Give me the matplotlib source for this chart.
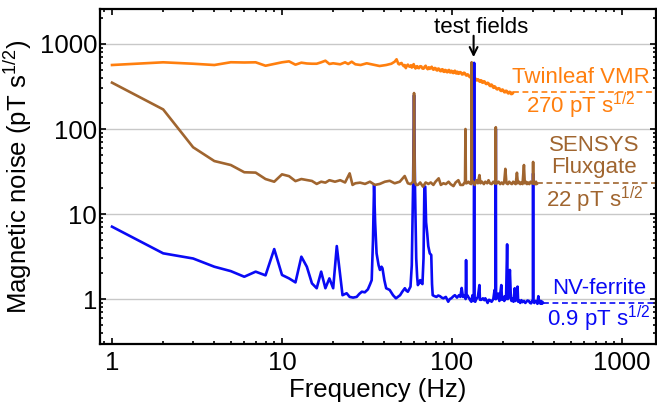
import matplotlib
matplotlib.use("Agg")
import matplotlib.pyplot as plt
from matplotlib.ticker import FixedLocator, FixedFormatter, LogLocator, NullFormatter

plt.rcParams['font.family'] = ['Liberation Sans', 'DejaVu Sans']
plt.rcParams['mathtext.fontset'] = 'custom'
plt.rcParams['mathtext.rm'] = 'Liberation Sans'
plt.rcParams['mathtext.it'] = 'Liberation Sans:italic'

# ---------------- data ----------------
twinleaf_f = [1, 2, 3, 4, 5, 6, 7, 8, 9, 10, 11, 12, 13, 14, 15, 16, 17, 18, 19, 20,
              22, 23.5, 24.5, 25.7, 27, 29, 31.5, 34.5, 37.5, 41, 44, 46, 47.2, 48.3,
              49, 49.8, 50.5, 51.2, 52, 52.7, 53.5, 54.2, 55, 55.7, 56.5, 57.3, 58, 58.8,
              59.5, 60.2, 61, 61.8, 62.5, 63.2, 64, 65, 66, 67, 68, 69, 70, 71, 72, 73, 74,
              75, 76, 77, 78, 79, 80, 81, 82, 83, 84, 85, 86, 87, 88, 89, 90, 91, 92, 93,
              94, 95, 96, 97, 98, 99, 100, 101, 102, 103, 104, 105, 106, 107, 108, 109,
              110, 111.5, 113, 114.5, 116, 117.5, 119, 120.5, 122, 123.5, 125, 126.5, 128,
              129.5, 131, 132.5, 134, 135.5, 137, 138.5, 140, 141.5, 143, 144.5, 146,
              147.5, 149, 150.5, 152, 154, 156, 158, 160, 162, 164, 166, 168, 170, 172,
              174, 176, 178, 180, 182.5, 185, 187.5, 190, 192.5, 195, 197.5, 200, 202.5,
              205, 207.5, 210, 212.5, 215, 217.5, 220, 222.5, 225, 226.5, 228]
twinleaf_v = [566, 609, 586, 566, 610, 606, 609, 555, 582, 609, 625, 571, 603, 590, 586,
              586, 609, 636, 582, 593, 577, 609, 582, 619, 577, 566, 593, 571, 551, 566,
              586, 619, 661, 586,
              575, 592, 598, 570, 548, 566, 520, 555, 572, 548, 540, 562, 528, 556,
              580, 535, 515, 545, 548, 522, 520, 548, 545, 515, 512, 540, 555, 520, 505, 532,
              510, 528, 540, 505, 498, 522, 520, 492, 488, 515, 510, 482, 478, 502, 505, 474,
              470, 495, 492, 468, 465, 490, 495, 465, 462, 485, 480, 458, 455, 478, 485, 456,
              450, 472, 470, 446, 448, 468, 462, 438, 440, 460, 455, 430, 425, 440, 432, 412,
              405, 420, 412, 392, 390, 402, 395, 378, 372, 385, 382, 365, 360, 375, 372, 352,
              350, 365, 360, 340, 338, 350, 345, 326, 320, 334, 330, 310, 305, 318, 312, 296,
              292, 302, 300, 284, 280, 292, 288, 272, 270, 282, 280, 265, 262, 274, 272, 258,
              258, 268, 265]

sensys_f = [1, 2, 3, 4, 5, 6, 7, 8, 9, 10, 11, 12, 13, 14, 15, 16, 17, 18, 19, 20.5, 22,
            23.5, 25, 26, 27, 28.8, 30.8, 32.9, 35.2, 37.6, 40.3, 43, 46, 49.3, 52.7, 55,
            57, 59.2, 59.8, 60.4, 61.5, 63, 65, 67.5, 70, 72.6, 75, 77.7, 80, 83.5, 86, 89,
            92, 95.5, 98, 102, 105, 109, 112, 116, 119.3, 120, 120.7, 122, 125, 127, 129.8,
            130.5, 131.2, 133, 136, 139, 142, 145, 147, 150, 154, 157, 161, 164, 167, 171,
            175, 178, 180.3, 181, 181.7, 184, 188, 192, 196, 200, 203, 206, 209, 213, 217,
            221, 225, 229, 233, 237, 241, 244, 248, 252, 256, 260, 265, 268, 272, 276, 280,
            285, 290, 295, 299.3, 300, 300.7, 304, 308, 312, 315]
sensys_v = [351, 170, 61, 42, 37.7, 31, 30.7, 25.8, 24, 29.3, 27.9, 24.4, 25.8, 25.1, 24.5,
            22.6, 24, 23.4, 25, 24, 25, 23.5, 30.1, 22, 23, 23.4, 22.6, 24, 22, 22.6, 24,
            24.6, 23, 24, 28, 23, 22.5, 24, 265, 24, 22, 22, 23.5, 21, 23.5, 22.6, 23.5, 22,
            24, 26.3, 22, 23, 22.5, 24, 22.5, 21.3, 23.5, 25, 22, 22, 24, 100, 23, 23, 24,
            23, 22.5, 610, 24, 24, 22, 25, 23, 28.7, 23, 24, 22.5, 24, 23, 25, 23, 22.5, 24,
            23, 23, 105, 23, 23, 24, 22.5, 23.5, 22.5, 24, 34, 23, 22.5, 24, 23, 22.5, 24,
            23, 22.5, 30.6, 23, 24, 22.5, 23.5, 22.5, 37.7, 23, 24, 22.5, 23.5, 22.5, 24,
            23, 23, 41, 23, 23, 22.5, 24, 22.6]

nv_f = [1, 2, 3, 4, 5, 6, 7, 8, 9, 10, 11, 12, 13, 14, 15, 16, 17, 18, 19, 20, 21, 22.7,
        24, 25, 26.2, 27.5, 28.5, 29.5, 30.7, 32, 33, 33.7, 34.3, 34.8, 35.3, 36, 37, 37.7,
        38.5, 39, 40, 41, 43, 45, 46.8, 48, 49.5, 51, 52.8, 54, 55, 57, 58, 59.0, 59.8,
        60.6, 61.6, 62.4, 63, 64, 65, 66, 67, 68, 68.8, 69.6, 70.4, 71.5, 72.5, 74,
        75.5, 76.3, 77, 79, 81, 83, 85, 87, 89, 92, 95, 97, 99, 102, 104, 107, 110, 112,
        114, 116, 118, 120.3, 121, 121.8, 123, 126, 128, 130, 132, 134.3, 135, 135.7, 137,
        139, 142, 145, 146, 149, 152, 155, 157, 160, 162, 165, 167, 171, 175, 178, 180.3,
        181, 181.7, 185, 187, 190, 195, 197, 200, 203, 205, 208, 211, 213, 215, 219, 222,
        224, 226, 230, 234, 236, 238, 243, 245, 248, 252, 256, 260, 265, 270, 274, 278,
        283, 288, 292, 296, 299.3, 300, 300.7, 305, 310, 315, 318, 322, 326, 330, 333,
        336, 340, 343]
nv_v = [7.1, 3.45, 3.0, 2.4, 2.13, 1.83, 2.1, 1.9, 3.87, 1.92, 1.75, 1.57, 3.15, 2.4, 1.53,
        1.34, 2.1, 1.34, 1.75, 1.34, 4.2, 1.11, 1.17, 1.06, 1.04, 1.06, 1.15, 1.22, 1.2,
        1.3, 1.5, 1.67, 5, 22, 8, 3.45, 2.5, 2.2, 2.4, 2.3, 1.67, 1.34, 1.28, 1.11, 1.02,
        1.06, 1.11, 1.22, 1.34, 1.25, 1.22, 1.4, 2.5, 20, 250, 20, 3.0, 1.8, 1.46,
        1.55, 1.67, 1.55, 1.5, 3, 21, 21, 8, 5.9, 4.2, 3.45, 3.3, 1.5, 1.11, 1.08, 1.06,
        1.1, 1.08, 1.04, 1.02, 1.06, 0.93, 1.0, 1.02, 1.08, 1.11, 1.04, 1.11, 1.06, 1.35,
        1.06, 1.11, 1.0, 2.87, 1.05, 1.11, 1.02, 0.97, 0.93, 1.11, 0.95, 600, 0.95, 0.93,
        1.0, 1.06, 1.46, 0.98, 0.98, 1.02, 0.97, 1.02, 0.95, 0.9, 0.98, 0.97, 0.93, 1.0,
        1.28, 1.0, 100, 1.0, 1.05, 1.16, 0.95, 1.46, 0.98, 1.06, 0.95, 1.08, 1.0, 4.4, 1.0,
        1.06, 2.2, 1.02, 0.95, 1.02, 0.93, 1.34, 0.95, 0.98, 1.4, 0.93, 0.96, 0.9, 0.97,
        0.92, 0.95, 0.9, 0.93, 0.96, 0.95, 0.9, 0.89, 0.95, 0.93, 30, 0.93, 0.9, 0.95,
        0.93, 0.88, 1.08, 0.9, 0.89, 0.95, 0.88, 0.93, 0.9]

floor_levels = {"twinleaf": 275, "sensys": 23.4, "nv": 0.91}
floor_labels = ["270 pT s$^{\\mathrm{1/2}}$", "22 pT s$^{\\mathrm{1/2}}$", "0.9 pT s$^{\\mathrm{1/2}}$"]
series_names = ["Twinleaf VMR", "SENSYS\nFluxgate", "NV-ferrite"]
test_field_freq = 134
tick_values = [1, 10, 100, 1000]
tick_labels = ["1", "10", "100", "1000"]

# ---------------- style ----------------
c_orange = "#FF7F0E"
c_brown = "#A0652F"
c_blue = "#0A0AF5"

fig = plt.figure(figsize=(6.57, 4.07), dpi=100)
ax = fig.add_axes([100 / 657, 63 / 407, 556 / 657, 335 / 407])
ax.set_xscale('log')
ax.set_yscale('log')
xmin, xmax = 0.85, 1585
ax.set_xlim(xmin, xmax)
ax.set_ylim(0.296, 2580)

for y in tick_values:
    ax.axhline(y, color="#C8C8C8", lw=1.0, zorder=0)

lw = 1.9
ax.plot(twinleaf_f, twinleaf_v, color=c_orange, lw=lw, zorder=2)
ax.plot(nv_f, nv_v, color=c_blue, lw=lw, zorder=3)
ax.plot(sensys_f, sensys_v, color=c_brown, lw=lw, zorder=4)

dash = (0, (3.5, 2.2))
ax.plot([twinleaf_f[-1], xmax], [floor_levels["twinleaf"]] * 2, color=c_orange, lw=1.2, ls=dash, zorder=2)
ax.plot([sensys_f[-1], xmax], [floor_levels["sensys"]] * 2, color=c_brown, lw=1.2, ls=dash, zorder=2)
ax.plot([nv_f[-1], xmax], [floor_levels["nv"]] * 2, color=c_blue, lw=1.2, ls=dash, zorder=2)

fs_ann = 16
tr = ax.transAxes
ax.text(0.865, 0.778, series_names[0], color=c_orange, fontsize=fs_ann, ha='center', va='baseline', transform=tr)
ax.text(0.865, 0.689, floor_labels[0], color=c_orange, fontsize=fs_ann, ha='center', va='baseline', transform=tr)
ax.text(0.889, 0.575, "SENSYS", color=c_brown, fontsize=fs_ann, ha='center', va='baseline', transform=tr)
ax.text(0.889, 0.510, "Fluxgate", color=c_brown, fontsize=fs_ann, ha='center', va='baseline', transform=tr)
ax.text(0.890, 0.408, floor_labels[1], color=c_brown, fontsize=fs_ann, ha='center', va='baseline', transform=tr)
ax.text(0.897, 0.149, series_names[2], color=c_blue, fontsize=fs_ann, ha='center', va='baseline', transform=tr)
ax.text(0.897, 0.052, floor_labels[2], color=c_blue, fontsize=fs_ann, ha='center', va='baseline', transform=tr)

ax.text(0.685, 0.927, "test fields", color='black', fontsize=fs_ann, ha='center', va='baseline', transform=tr)
ax.annotate('', xy=(test_field_freq, 700), xytext=(test_field_freq, 1250),
            arrowprops=dict(arrowstyle='->', lw=1.5, color='black', mutation_scale=14,
                            shrinkA=0, shrinkB=0))

ax.xaxis.set_major_locator(FixedLocator(tick_values))
ax.xaxis.set_major_formatter(FixedFormatter(tick_labels))
ax.yaxis.set_major_locator(FixedLocator(tick_values))
ax.yaxis.set_major_formatter(FixedFormatter(tick_labels))
ax.xaxis.set_minor_locator(LogLocator(base=10, subs=range(2, 10), numticks=20))
ax.yaxis.set_minor_locator(LogLocator(base=10, subs=range(2, 10), numticks=20))
ax.xaxis.set_minor_formatter(NullFormatter())
ax.yaxis.set_minor_formatter(NullFormatter())

ax.tick_params(which='both', direction='in', top=True, right=True, width=1.2)
ax.tick_params(which='major', length=4.5, labelsize=18.5)
ax.tick_params(which='minor', length=2.5)
ax.tick_params(axis='y', which='major', pad=2)
ax.tick_params(axis='x', which='major', pad=5)
for s in ax.spines.values():
    s.set_linewidth(1.6)

ax.set_xlabel("Frequency (Hz)", fontsize=18.5, labelpad=2)
ax.set_ylabel("Magnetic noise (pT s$^{\\mathrm{1/2}}$)", fontsize=18.5, labelpad=4)

fig.savefig("out.png", dpi=100)
